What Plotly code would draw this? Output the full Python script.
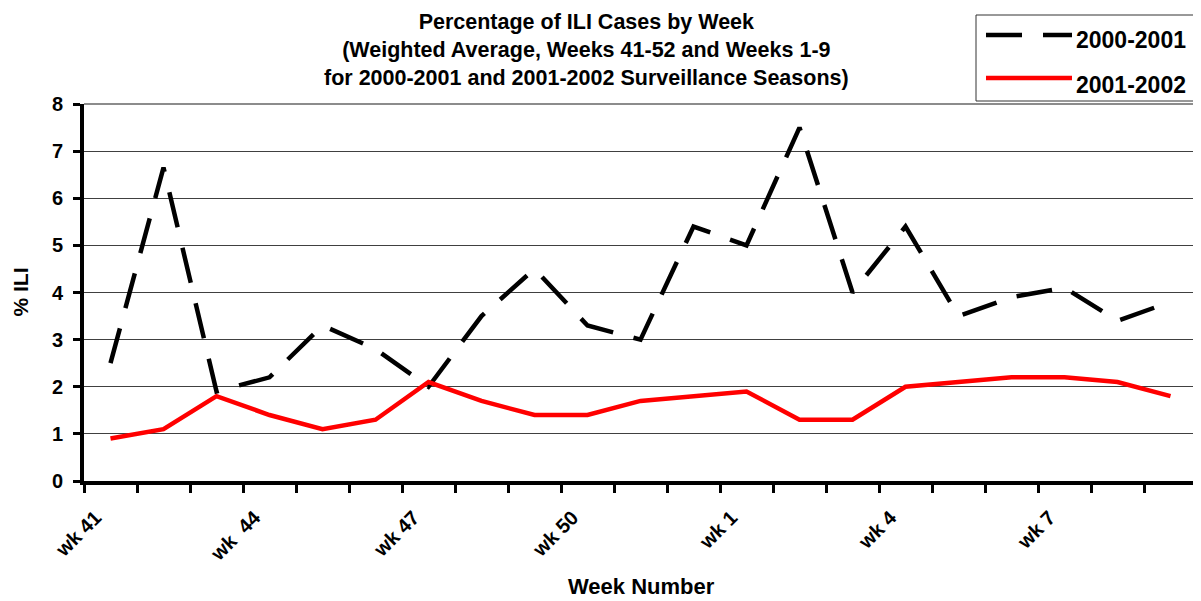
import plotly.graph_objects as go

# ---- data ----
weeks = ["wk 41", "wk 42", "wk 43", "wk 44", "wk 45", "wk 46", "wk 47", "wk 48",
         "wk 49", "wk 50", "wk 51", "wk 52", "wk 1", "wk 2", "wk 3", "wk 4",
         "wk 5", "wk 6", "wk 7", "wk 8", "wk 9"]
tick_text = ["wk 41", "", "", "wk \u00a044", "", "", "wk 47", "", "", "wk 50", "", "",
             "wk 1", "", "", "wk 4", "", "", "wk 7", "", ""]
season_2000_2001 = [2.5, 6.65, 1.9, 2.2, 3.3, 2.8, 2.0, 3.5, 4.5, 3.3, 3.0, 5.4,
                    5.0, 7.5, 4.0, 5.4, 3.5, 3.9, 4.1, 3.4, 3.8]
season_2001_2002 = [0.9, 1.1, 1.8, 1.4, 1.1, 1.3, 2.1, 1.7, 1.4, 1.4, 1.7, 1.8,
                    1.9, 1.3, 1.3, 2.0, 2.1, 2.2, 2.2, 2.1, 1.8]
series_names = ["2000-2001", "2001-2002"]
y_ticks = [0, 1, 2, 3, 4, 5, 6, 7, 8]

FONT = "Liberation Sans, Arial, sans-serif"
DASH = "36px,21px"

# page offset (body margin) and plot area in figure pixels
OFF = 8
W, H = 1193, 593
L, R, T, B = 76, 1189, 96, 473
LABEL_SHIFT = 0.28  # category units, tick labels sit slightly left of centres


def px_x(p):  # page pixel -> paper
    return (p - OFF - L) / (R - L)


def px_y(p):
    return (B - (p - OFF)) / (B - T)


idx = list(range(len(weeks)))

fig = go.Figure()
fig.add_trace(go.Scatter(x=weeks, y=season_2000_2001, mode="lines", name=series_names[0],
                         line=dict(color="black", width=4.5, dash=DASH), showlegend=False))
fig.add_trace(go.Scatter(x=weeks, y=season_2001_2002, mode="lines", name=series_names[1],
                         line=dict(color="#ff0000", width=4.5), showlegend=False))
# carrier for the label axis (invisible)
fig.add_trace(go.Scatter(x=idx, y=season_2001_2002, xaxis="x2", mode="lines",
                         line=dict(color="rgba(0,0,0,0)", width=0), hoverinfo="skip",
                         showlegend=False))

shapes = []
shapes.append(dict(type="line", xref="paper", yref="paper", x0=0, x1=1, y0=1, y1=1,
                   line=dict(color="#8c8c8c", width=2)))
shapes.append(dict(type="line", xref="paper", yref="paper", x0=1, x1=1, y0=0, y1=1,
                   line=dict(color="#8c8c8c", width=2)))
shapes.append(dict(type="rect", xref="paper", yref="paper",
                   x0=px_x(976), x1=px_x(1196), y0=px_y(101), y1=px_y(15),
                   line=dict(color="#333333", width=1), fillcolor="white"))
legend_rows = [(series_names[0], 35, 40, dict(color="black", width=4.5, dash=DASH)),
               (series_names[1], 78, 85, dict(color="#ff0000", width=4.5))]
annotations = []
for name, yy, ty, ln in legend_rows:
    shapes.append(dict(type="line", xref="paper", yref="paper",
                       x0=px_x(986), x1=px_x(1072), y0=px_y(yy), y1=px_y(yy), line=ln))
    annotations.append(dict(text=name, xref="paper", yref="paper", x=px_x(1074), y=px_y(ty),
                            xanchor="left", yanchor="middle", showarrow=False,
                            font=dict(family=FONT, size=23, color="black", weight="bold")))

annotations.append(dict(
    text="Percentage of ILI Cases by Week<br>(Weighted Average, Weeks 41-52 and Weeks 1-9<br>"
         "for 2000-2001 and 2001-2002 Surveillance Seasons)",
    xref="paper", yref="paper", x=px_x(586), y=px_y(50), xanchor="center", yanchor="middle",
    showarrow=False, font=dict(family=FONT, size=21.5, color="black", weight="bold")))
annotations.append(dict(text="Week Number", xref="paper", yref="paper", x=px_x(641), y=px_y(586),
                        xanchor="center", yanchor="middle", showarrow=False,
                        font=dict(family=FONT, size=22, color="black", weight="bold")))
annotations.append(dict(text="% ILI", xref="paper", yref="paper", x=px_x(20), y=px_y(292.5),
                        xanchor="center", yanchor="middle", textangle=-90, showarrow=False,
                        font=dict(family=FONT, size=21, color="black", weight="bold")))

fig.update_layout(
    width=W, height=H,
    margin=dict(l=L, r=W - R, t=T, b=H - B, autoexpand=False),
    paper_bgcolor="white", plot_bgcolor="white",
    shapes=shapes, annotations=annotations,
    showlegend=False,
    xaxis=dict(
        type="category", categoryorder="array", categoryarray=weeks,
        tickmode="array", tickvals=weeks, showticklabels=False,
        tickson="boundaries", ticks="outside", ticklen=8, tickwidth=3, tickcolor="black",
        showline=True, linecolor="black", linewidth=4, showgrid=False, zeroline=False,
        range=[-0.5, 20.5],
    ),
    xaxis2=dict(
        overlaying="x", anchor="y", side="bottom", type="linear",
        range=[-0.5 + LABEL_SHIFT, 20.5 + LABEL_SHIFT],
        tickmode="array", tickvals=idx, ticktext=tick_text, ticks="",
        tickangle=-45, ticklabelstandoff=20,
        tickfont=dict(family=FONT, size=20, color="black", weight="bold"),
        showline=False, showgrid=False, zeroline=False,
    ),
    yaxis=dict(
        range=[0, 8], tickmode="array", tickvals=y_ticks,
        ticks="outside", ticklen=7, tickwidth=3, tickcolor="black",
        ticklabelstandoff=6,
        tickfont=dict(family=FONT, size=20, color="black", weight="bold"),
        showline=True, linecolor="black", linewidth=4,
        showgrid=True, gridcolor="#404040", gridwidth=1, zeroline=False,
    ),
)

fig.write_html("out.html")
